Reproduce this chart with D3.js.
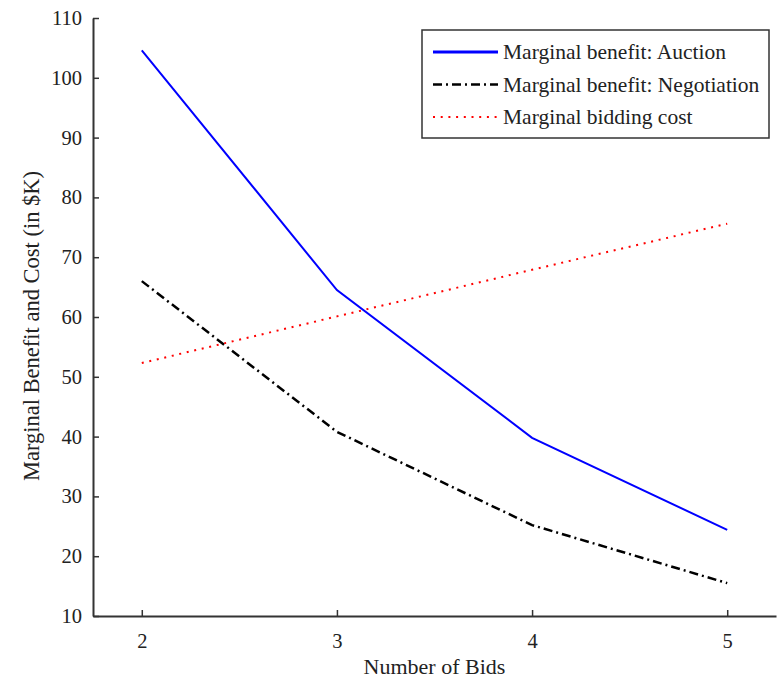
<!DOCTYPE html>
<html>
<head>
<meta charset="utf-8">
<script src="https://cdn.jsdelivr.net/npm/d3@7/dist/d3.min.js"></script>
<style>
  body { margin: 0; background: #fff; }
  svg text { font-family: "Liberation Serif", "Times New Roman", serif; fill: #222; }
</style>
</head>
<body>
<div id="chart"></div>
<script>
// data
const bids = [2, 3, 4, 5];
const auction = [104.6, 64.5, 39.8, 24.4];
const negotiation = [66.0, 40.8, 25.2, 15.5];
const biddingCost = [52.3, 60.1, 67.9, 75.6];
const yTicks = [10, 20, 30, 40, 50, 60, 70, 80, 90, 100, 110];
const seriesNames = ["Marginal benefit: Auction", "Marginal benefit: Negotiation", "Marginal bidding cost"];

(function() {
    const W = 780, H = 680;
    const margin = {top: 18, right: 4, bottom: 64, left: 93};
    const width = W - margin.left - margin.right;
    const height = H - margin.top - margin.bottom;

    const svg = d3.select("#chart")
        .append("svg")
        .attr("width", W)
        .attr("height", H)
        .append("g")
        .attr("transform", `translate(${margin.left},${margin.top})`);

    const x = d3.scaleLinear().domain([1.75, 5.25]).range([0, width]);
    const y = d3.scaleLinear().domain([10, 110]).range([height, 0]);

    // axes, ticks pointing inward like matlab
    const xAxis = svg.append("g")
        .attr("transform", `translate(0,${height})`)
        .call(d3.axisBottom(x).tickValues(bids).tickFormat(d3.format("d"))
            .tickSize(-6).tickPadding(17).tickSizeOuter(0));
    const yAxis = svg.append("g")
        .call(d3.axisLeft(y).tickValues(yTicks).tickSize(-6).tickPadding(11).tickSizeOuter(0));

    [xAxis, yAxis].forEach(a => {
        a.select(".domain").attr("stroke", "#333").attr("stroke-width", 2);
        a.selectAll(".tick line").attr("stroke", "#333").attr("stroke-width", 1.5);
        a.selectAll("text")
            .style("font-family", '"Liberation Serif", serif')
            .style("font-size", "20.5px")
            .attr("fill", "#222");
    });

    svg.append("text")
        .attr("text-anchor", "middle")
        .attr("x", width / 2)
        .attr("y", height + 58)
        .style("font-size", "22px")
        .text("Number of Bids");

    svg.append("text")
        .attr("text-anchor", "middle")
        .attr("transform", "rotate(-90)")
        .attr("x", -height / 2 - 9)
        .attr("y", -54)
        .style("font-size", "22.5px")
        .text("Marginal Benefit and Cost (in $K)");

    const series = [
        {name: seriesNames[0], values: auction, color: "#0000ff", dash: null, w: 2},
        {name: seriesNames[1], values: negotiation, color: "#000", dash: "9,4,2,4", w: 2.5},
        {name: seriesNames[2], values: biddingCost, color: "#ff0000", dash: "2,5.7", w: 2}
    ];

    const line = d3.line()
        .x(d => x(d[0]))
        .y(d => y(d[1]));

    series.forEach(s => {
        svg.append("path")
            .datum(bids.map((b, i) => [b, s.values[i]]))
            .attr("fill", "none")
            .attr("stroke", s.color)
            .attr("stroke-width", s.w)
            .attr("stroke-dasharray", s.dash)
            .attr("d", line);
    });

    // legend box
    const legend = svg.append("g")
        .attr("transform", `translate(${422 - margin.left},${30 - margin.top})`);

    legend.append("rect")
        .attr("width", 347)
        .attr("height", 108)
        .attr("fill", "#fff")
        .attr("stroke", "#333")
        .attr("stroke-width", 1.5);

    series.forEach((s, i) => {
        const row = legend.append("g")
            .attr("transform", `translate(0,${22 + i * 32.5})`);
        row.append("line")
            .attr("x1", 11)
            .attr("x2", 76)
            .attr("stroke", s.color)
            .attr("stroke-width", s.w + (i === 0 ? 1 : 0))
            .attr("stroke-dasharray", s.dash);
        row.append("text")
            .attr("x", 81)
            .attr("y", 7)
            .style("font-size", "21.5px")
            .text(s.name);
    });
})();
</script>
</body>
</html>
